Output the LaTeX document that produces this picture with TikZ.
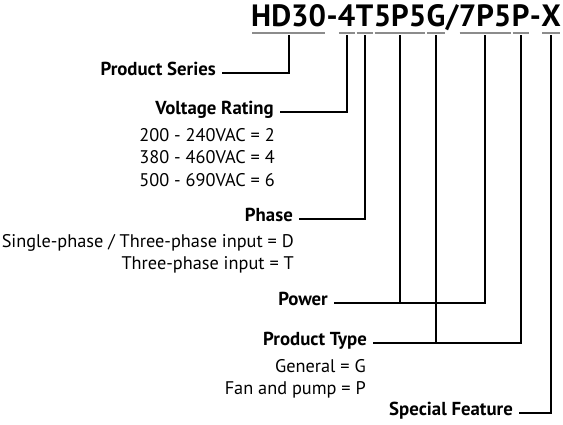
\documentclass[tikz,border=0pt]{standalone}
\usepackage{fontspec}
\setmainfont{PT Sans}
\usetikzlibrary{positioning}
\definecolor{ulgray}{RGB}{140,140,140}
\tikzset{
x=1pt, y=-1pt, % pixel-like units, y runs downwards
seg/.style={inner sep=0pt, anchor=base west, text height=20pt, text depth=0pt, font=\fontsize{30.8}{30.8}\selectfont\bfseries}, % one piece of the model code
uline/.style={draw=ulgray, line width=2pt}, % grey bar under a piece
conn/.style={draw=black, line width=2pt}, % leader line
field/.style={inner xsep=6pt, inner ysep=0pt, anchor=mid east, font=\fontsize{18.8}{18.8}\selectfont\bfseries}, % bold field name
desc/.style={inner sep=0pt, anchor=mid east, font=\fontsize{18.3}{18.3}\selectfont}, % value lines
}

\begin{document}
\begin{tikzpicture}
        \useasboundingbox (0,0) rectangle (563,424);

        % model code, piece by piece
        \node[seg] (hd) at (251,26) {HD30};
        \node[seg] (d1) at (hd.base east) {-};
        \node[seg] (volt) at (d1.base east) {4};
        \node[seg] (phs) at (volt.base east) {T};
        \node[seg] (pwa) at (phs.base east) {5P5};
        \node[seg] (typa) at (pwa.base east) {G};
        \node[seg] (sl) at (typa.base east) {/};
        \node[seg] (pwb) at (sl.base east) {7P5};
        \node[seg] (typb) at (pwb.base east) {P};
        \node[seg] (d2) at (typb.base east) {-};
        \node[seg] (spec) at (d2.base east) {X};

        \foreach \n in {hd, volt, phs, pwa, typa, pwb, typb, spec}
          \draw[uline] ([shift={(1pt,-7pt)}]\n.south west) -- ([shift={(-1pt,-7pt)}]\n.south east);

        % field names
        \node[field] (series) at (222,73) {Product Series};
        \node[field] (rating) at (280,112) {Voltage Rating};
        \node[field] (phase) at (299,219) {Phase};
        \node[field] (power) at (334,303) {Power};
        \node[field] (ptype) at (373,343) {Product Type};
        \node[field] (feature) at (519,413) {Special Feature};

        % values
        \node[desc] (v2) at (275,138.5) {200 - 240VAC = 2};
        \node[desc] (v4) at (275,161) {380 - 460VAC = 4};
        \node[desc] (v6) at (275,183.5) {500 - 690VAC = 6};
        \node[desc] (pd) at (294,244.5) {Single-phase / Three-phase input = D};
        \node[desc] (pt) at (294,266.5) {Three-phase input = T};
        \node[desc] (tg) at (366,369.5) {General = G};
        \node[desc] (tp) at (366,391.5) {Fan and pump = P};

        % leader lines
        \draw[conn] (series.mid east) -| ([yshift=-9pt]hd.south);
        \draw[conn] (rating.mid east) -| ([yshift=-9pt]volt.south);
        \draw[conn] (phase.mid east) -| ([yshift=-9pt]phs.south);
        \draw[conn] (power.mid east) -| ([yshift=-9pt]pwb.south);
        \draw[conn] (power.mid east -| pwa.south) -- ([yshift=-9pt]pwa.south);
        \draw[conn] (ptype.mid east) -| ([yshift=-9pt]typb.south);
        \draw[conn] (ptype.mid east -| typa.south) -- ([yshift=-9pt]typa.south);
        \draw[conn] (feature.mid east) -| ([yshift=-9pt]spec.south);
\end{tikzpicture}
\end{document}
